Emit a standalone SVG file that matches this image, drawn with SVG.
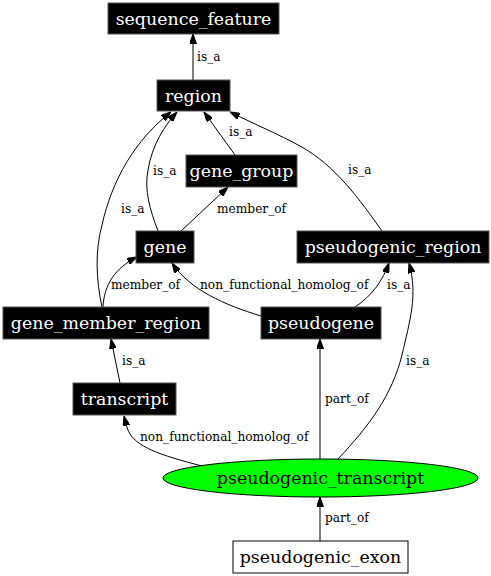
<svg xmlns="http://www.w3.org/2000/svg" width="491" height="576" viewBox="0 0 491 576">
<defs>
<marker id="ah" markerWidth="10" markerHeight="7" refX="10" refY="3.5" orient="auto" markerUnits="userSpaceOnUse">
<path d="M0,0 L10,3.5 L0,7 z" fill="#000" stroke="#000" stroke-width="1"/>
</marker>
<style>
.blk rect{fill:#000;stroke:#555;stroke-width:1}
.nt{font-family:"DejaVu Serif",serif;font-size:17.4px;text-anchor:middle}
.blk text{fill:#fff}
.el{font-family:"DejaVu Serif",serif;font-size:12.2px;fill:#000}
.edges path{fill:none;stroke:#000;stroke-width:1;marker-end:url(#ah)}
</style>
</defs>
<rect width="491" height="576" fill="#fff"/>
<g class="edges">
<path d="M193,80 L193,34"/>
<path d="M235,155 L204,112"/>
<path d="M181,231 L228,187"/>
<path d="M158,231 C150,210 144,190 148,170 C152,145 165,125 177,112"/>
<path d="M102,307 C96,280 95,250 102,225 C112,180 135,140 171,112"/>
<path d="M103,307 C104,285 115,268 137,257"/>
<path d="M261,316 C225,305 190,290 172,263"/>
<path d="M382,231 C360,200 335,165 300,146 C280,135 250,122 230,112"/>
<path d="M355,307 C372,296 383,280 389,263"/>
<path d="M120,383 L111,339"/>
<path d="M338,459 C370,425 392,395 402,355 C410,320 418,295 409,263"/>
<path d="M320,459 L320,339"/>
<path d="M202,466 C160,455 135,447 128,430 C126,425 125,420 124,416"/>
<path d="M320,541 L320,497"/>
<text class="el" x="197" y="61">is_a</text>
<text class="el" x="229" y="136">is_a</text>
<text class="el" x="153" y="175">is_a</text>
<text class="el" x="121" y="213">is_a</text>
<text class="el" x="217" y="213">member_of</text>
<text class="el" x="111" y="289">member_of</text>
<text class="el" x="200" y="289">non_functional_homolog_of</text>
<text class="el" x="348" y="174">is_a</text>
<text class="el" x="387" y="289">is_a</text>
<text class="el" x="122" y="365">is_a</text>
<text class="el" x="406" y="365">is_a</text>
<text class="el" x="325" y="403">part_of</text>
<text class="el" x="140" y="441">non_functional_homolog_of</text>
<text class="el" x="325" y="522">part_of</text>
</g>
<g id="sequence_feature" class="blk"><rect x="108" y="3" width="171" height="31"/><text class="nt" x="193.5" y="24.5">sequence_feature</text></g>
<g id="region" class="blk"><rect x="157" y="80" width="73" height="31"/><text class="nt" x="193.5" y="101.5">region</text></g>
<g id="gene_group" class="blk"><rect x="186" y="155" width="111" height="32"/><text class="nt" x="241.5" y="177">gene_group</text></g>
<g id="gene" class="blk"><rect x="136" y="231" width="58" height="32"/><text class="nt" x="165" y="253">gene</text></g>
<g id="pseudogenic_region" class="blk"><rect x="297" y="231" width="192" height="32"/><text class="nt" x="393" y="253">pseudogenic_region</text></g>
<g id="gene_member_region" class="blk"><rect x="3" y="307" width="206" height="32"/><text class="nt" x="106" y="329">gene_member_region</text></g>
<g id="pseudogene" class="blk"><rect x="261" y="307" width="120" height="32"/><text class="nt" x="321" y="329">pseudogene</text></g>
<g id="transcript" class="blk"><rect x="73" y="383" width="103" height="32"/><text class="nt" x="124.5" y="405">transcript</text></g>
<g id="pseudogenic_transcript"><ellipse cx="320.5" cy="478" rx="157.5" ry="19" fill="#00ff00" stroke="#000"/><text class="nt" x="320.5" y="484">pseudogenic_transcript</text></g>
<g id="pseudogenic_exon"><rect x="233" y="541" width="175" height="32" fill="#fff" stroke="#000"/><text class="nt" x="320.5" y="563">pseudogenic_exon</text></g>
</svg>
